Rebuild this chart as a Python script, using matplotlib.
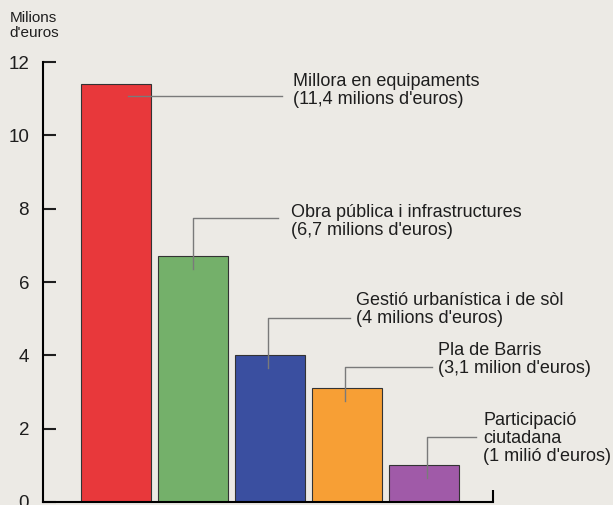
import matplotlib.pyplot as plt

plt.rcParams['font.family'] = ['Liberation Sans', 'DejaVu Sans']

# Data
categories = ["Millora en equipaments", "Obra pública i infrastructures",
              "Gestió urbanística i de sòl", "Pla de Barris", "Participació\nciutadana"]
values = [11.4, 6.7, 4.0, 3.1, 1.0]
value_labels = ["(11,4 milions d'euros)", "(6,7 milions d'euros)", "(4 milions d'euros)",
                "(3,1 milion d'euros)", "(1 milió d'euros)"]
colors = ["#E8383B", "#74B06A", "#3A4FA0", "#F79F35", "#A05AA8"]
yticks = [0, 2, 4, 6, 8, 10, 12]

bg = "#ECEAE5"
fig = plt.figure(figsize=(6.13, 5.05), dpi=100, facecolor=bg)
ax = fig.add_axes([0.070, 0.006, 0.734, 0.871], facecolor=bg)

x = list(range(len(values)))
ax.bar(x, values, width=0.91, color=colors, edgecolor="#333333", linewidth=0.8, zorder=2)

# leader lines and labels: (line x, line y, end x, text x, text top y)
leaders = [
    (0.16, 11.07, 2.16, 2.30, 11.70),
    (1.00, 7.76, 2.10, 2.27, 8.14),
    (1.97, 5.03, 3.04, 3.12, 5.74),
    (2.97, 3.69, 4.10, 4.19, 4.37),
    (4.04, 1.78, 4.68, 4.77, 2.46),
]
lc = "#7a7a7a"
for i, (lx, ly, ex, tx, ty) in enumerate(leaders):
    if i == 0:
        ax.plot([lx, ex], [ly, ly], color=lc, lw=1, zorder=3, clip_on=False)
    else:
        ax.plot([lx, lx, ex], [values[i] - 0.35, ly, ly], color=lc, lw=1, zorder=3, clip_on=False)
    ax.text(tx, ty, categories[i] + "\n" + value_labels[i], ha="left", va="top",
            fontsize=13, color="#1e1e1e", linespacing=1.08, clip_on=False)

ax.set_xlim(-0.948, 4.896)
ax.set_ylim(0, 12)
ax.set_yticks(yticks)
ax.set_yticklabels([str(t) for t in yticks], fontsize=13.5, color="#1e1e1e")
ax.set_xticks([4.896])
ax.set_xticklabels([""])
ax.tick_params(axis="y", direction="in", length=9, width=1.5, pad=10, colors="#1e1e1e")
ax.tick_params(axis="x", direction="in", length=9, width=1.5)
for s in ["top", "right"]:
    ax.spines[s].set_visible(False)
ax.spines["left"].set_linewidth(1.5)
ax.spines["bottom"].set_linewidth(1.5)

fig.text(0.016, 0.978, "Milions\nd'euros", ha="left", va="top", fontsize=11,
         color="#1e1e1e", linespacing=1.05)

fig.savefig("out.png", dpi=100, facecolor=bg)
